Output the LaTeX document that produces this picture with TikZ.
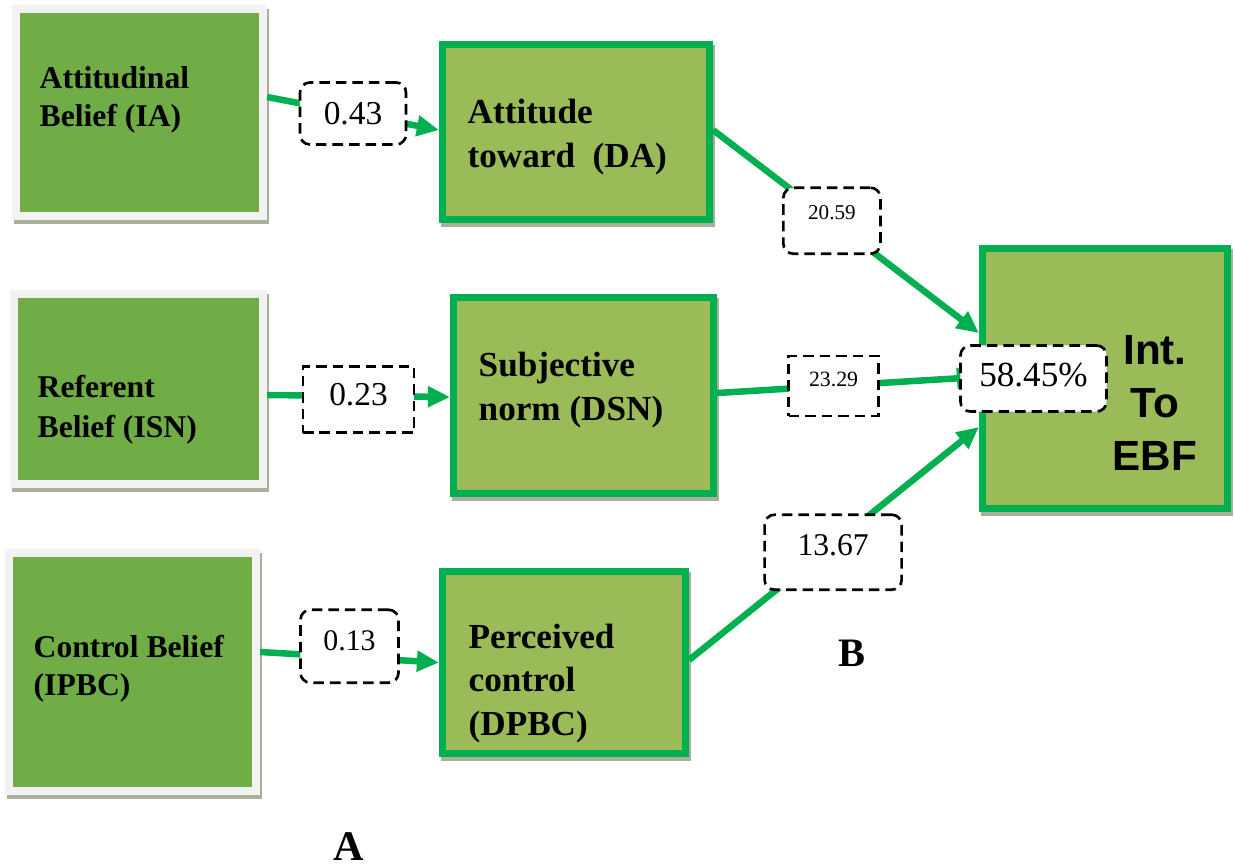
\documentclass[tikz,border=0pt]{standalone}
\usepackage{fontspec}
\setmainfont{Liberation Serif}
\newfontfamily\arialfont{Liberation Sans}
\usetikzlibrary{positioning,arrows.meta,shadows}
\definecolor{beliefgreen}{HTML}{70AD47}
\definecolor{boxgreen}{HTML}{9BBB59}
\definecolor{linegreen}{HTML}{00B050}
\definecolor{framegray}{HTML}{F2F2F2}
\definecolor{shadowgray}{HTML}{A8B09C}

\begin{document}
\begin{tikzpicture}[x=0.01cm,y=-0.01cm,
	belief/.style={draw=framegray, fill=beliefgreen, line width=0.08cm,
		drop shadow={shadow xshift=0.02cm, shadow yshift=-0.04cm, draw=shadowgray, fill=shadowgray, opacity=1}},
	construct/.style={draw=linegreen, fill=boxgreen, line width=0.07cm,
		drop shadow={shadow xshift=0.02cm, shadow yshift=-0.04cm, draw=shadowgray, fill=shadowgray, opacity=1}},
	boxtext/.style={anchor=base west, align=left, inner sep=0pt},
	weight/.style={draw=black, dashed, dash pattern=on 3pt off 1.7pt, line width=0.75pt,
		fill=white, inner sep=0pt},
	link/.style={draw=linegreen, line width=0.065cm},
	>={Triangle[length=0.22cm,width=0.2cm]}]
	\useasboundingbox (0,0) rectangle (1235,866);

	% belief boxes
	\node[belief, minimum width=2.47cm, minimum height=2.07cm] (ia) at (139.5,112.5) {};
	\node[belief, minimum width=2.49cm, minimum height=1.90cm] (isn) at (138.5,389) {};
	\node[belief, minimum width=2.47cm, minimum height=2.38cm] (ipbc) at (132.5,672) {};
	\node[boxtext, font=\bfseries\fontsize{9}{10.8}\selectfont] (ia-text) at (39,126) {Attitudinal\\Belief (IA)};
	\node[boxtext, font=\bfseries\fontsize{9}{11.1}\selectfont] (isn-text) at (37,437) {Referent\\Belief (ISN)};
	\node[boxtext, font=\bfseries\fontsize{9}{10.8}\selectfont] (ipbc-text) at (33,695) {Control Belief\\(IPBC)};

	% direct constructs
	\node[construct, minimum width=2.67cm, minimum height=1.75cm] (da) at (576,132) {};
	\node[construct, minimum width=2.60cm, minimum height=1.96cm] (dsn) at (583.5,395.5) {};
	\node[construct, minimum width=2.43cm, minimum height=1.82cm] (dpbc) at (564,662.5) {};
	\node[construct, minimum width=2.45cm, minimum height=2.60cm] (ebf) at (1105,378.5) {};
	\node[boxtext, font=\bfseries\fontsize{10}{12.5}\selectfont] (da-text) at (467,167) {Attitude\\toward~~(DA)};
	\node[boxtext, font=\bfseries\fontsize{10}{12.3}\selectfont] (dsn-text) at (478,420) {Subjective\\norm (DSN)};
	\node[boxtext, font=\bfseries\fontsize{10}{12.3}\selectfont] (dpbc-text) at (468,735) {Perceived\\control\\(DPBC)};
	\node[anchor=base, align=center, inner sep=0pt, font=\arialfont\bfseries\fontsize{12}{15}\selectfont]
		(ebf-text) at (1155,470) {Int.\\To\\EBF};

	% paths with weights
	\draw[link,->] ([yshift=0.155cm]ia.east) -- node[weight, rounded corners=0.1cm, minimum width=1.06cm, minimum height=0.62cm, font=\fontsize{9.5}{11}\selectfont] (w-ia) {0.43} ([yshift=0.02cm]da.west);
	\draw[link,->] ([yshift=-0.06cm]isn.east) -- node[weight, yshift=-0.035cm, minimum width=1.11cm, minimum height=0.66cm, text depth=0.1cm, font=\fontsize{9.5}{11}\selectfont] (w-isn) {0.23} ([yshift=-0.015cm]dsn.west);
	\draw[link,->] ([yshift=0.2cm]ipbc.east) -- node[weight, yshift=0.11cm, rounded corners=0.1cm, minimum width=0.98cm, minimum height=0.73cm, text depth=0.12cm, font=\fontsize{8.5}{10}\selectfont] (w-ipbc) {0.13} (dpbc.west);
	\draw[link,->] ([yshift=0.02cm]da.east) -- node[weight, pos=.447, rounded corners=0.1cm, minimum width=0.97cm, minimum height=0.66cm, text depth=0.16cm, font=\fontsize{6}{7}\selectfont] (w-da) {20.59} ([yshift=0.455cm]ebf.west);
	\draw[link,->] ([yshift=0.025cm]dsn.east) -- node[weight, pos=.445, minimum width=0.90cm, minimum height=0.60cm, text depth=0.14cm, font=\fontsize{6.2}{7}\selectfont] (w-dsn) {23.29} ([yshift=0.015cm]ebf.west);
	\draw[link,->] ([yshift=0.025cm]dpbc.east) -- node[weight, pos=.497, yshift=-0.08cm, rounded corners=0.1cm, minimum width=1.37cm, minimum height=0.75cm, text depth=0.14cm, font=\fontsize{9}{10}\selectfont] (w-dpbc) {13.67} ([yshift=-0.485cm]ebf.west);
	\node[weight, rounded corners=0.1cm, minimum width=1.46cm, minimum height=0.66cm, text depth=0.08cm, font=\fontsize{10}{12}\selectfont] (r2) at (1033.5,378.5) {58.45\%};

	\node[font=\bfseries\fontsize{11.5}{13}\selectfont] (lab-b) at (852,653.5) {B};
	\node[font=\bfseries\fontsize{12}{14}\selectfont] (lab-a) at (349,847) {A};
\end{tikzpicture}
\end{document}
